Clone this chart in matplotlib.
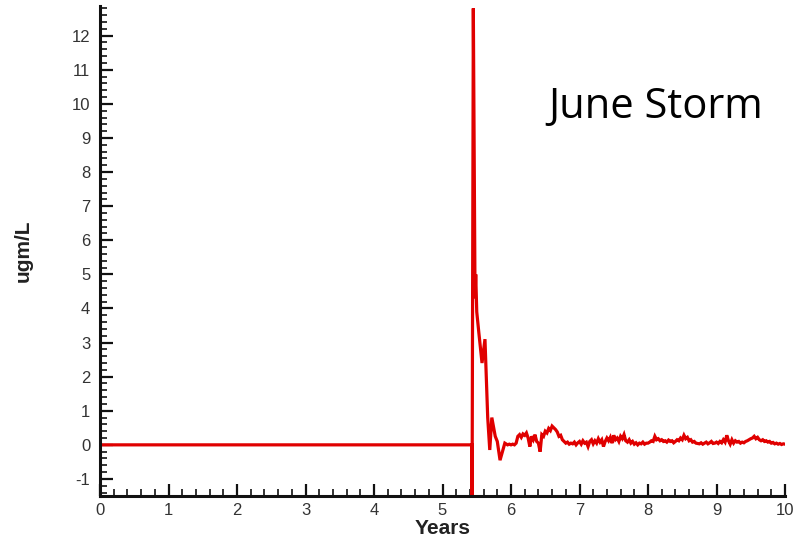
import numpy as np
import matplotlib
matplotlib.use("Agg")
import matplotlib.pyplot as plt
from matplotlib.ticker import MultipleLocator

plt.rcParams["axes.unicode_minus"] = False

# Concentration (ugm/L) through the storm event
storm_years = [0.0, 5.43, 5.432, 5.45, 5.475, 5.485, 5.50, 5.53, 5.577, 5.62,
               5.66, 5.69, 5.72, 5.77, 5.80, 5.84, 5.91, 5.95, 5.975]
storm_conc = [0.0, 0.0, -1.5, 12.8, 4.3, 5.0, 3.9, 3.3, 2.4, 3.1,
              0.8, -0.15, 0.8, 0.25, 0.1, -0.45, 0.05, 0.0, 0.02]

# Post-storm concentration, sampled every 0.025 years from 6.0 to 10.0
tail_start, tail_end = 6.0, 10.0
tail_conc = [
    # 6.0 - 6.975
    0.00, 0.02, 0.00, 0.05, 0.25, 0.30, 0.22, 0.32, 0.28, 0.35,
    0.20, -0.05, 0.25, 0.15, 0.30, 0.10, 0.05, -0.20, 0.30, 0.25,
    0.40, 0.35, 0.48, 0.42, 0.55, 0.50, 0.45, 0.38, 0.25, 0.28,
    0.15, 0.10, 0.05, 0.08, 0.02, 0.05, 0.03, 0.08, 0.00, 0.06,
    # 7.0 - 7.975
    0.10, 0.02, 0.12, 0.05, 0.08, -0.05, 0.10, 0.15, 0.03, 0.12,
    0.05, 0.18, 0.08, 0.15, -0.05, 0.10, 0.20, 0.12, 0.22, 0.05,
    0.28, 0.15, 0.20, 0.10, 0.25, 0.18, 0.30, 0.12, 0.08, 0.15,
    0.05, 0.10, 0.02, 0.06, 0.00, 0.05, 0.03, 0.08, 0.02, 0.05,
    # 8.0 - 8.975
    0.05, 0.08, 0.12, 0.10, 0.25, 0.15, 0.18, 0.12, 0.15, 0.10,
    0.12, 0.08, 0.14, 0.10, 0.12, 0.06, 0.10, 0.15, 0.12, 0.20,
    0.15, 0.28, 0.18, 0.22, 0.12, 0.15, 0.08, 0.10, 0.05, 0.04,
    0.03, 0.06, 0.02, 0.05, 0.08, 0.03, 0.06, 0.10, 0.04, 0.05,
    # 9.0 - 9.975
    0.08, 0.04, 0.10, 0.06, 0.15, 0.08, 0.28, 0.12, 0.02, 0.15,
    0.05, 0.12, 0.08, 0.10, 0.05, 0.08, 0.06, 0.10, 0.12, 0.15,
    0.18, 0.20, 0.25, 0.18, 0.22, 0.15, 0.12, 0.15, 0.10, 0.12,
    0.08, 0.10, 0.05, 0.07, 0.03, 0.05, 0.02, 0.04, 0.01, 0.03,
    # 10.0
    0.02,
]

x_ticks = [0, 1, 2, 3, 4, 5, 6, 7, 8, 9, 10]
y_ticks = [-1, 0, 1, 2, 3, 4, 5, 6, 7, 8, 9, 10, 11, 12]

tail_years = np.linspace(tail_start, tail_end, len(tail_conc))
years = np.concatenate([storm_years, tail_years])
conc = np.concatenate([storm_conc, tail_conc])

W, H = 796, 546
fig = plt.figure(figsize=(W / 100, H / 100), dpi=100)
ax = fig.add_axes([100 / W, 50 / H, 685 / W, 490 / H])

ax.plot(years, conc, color="#e00000", lw=2.3, solid_joinstyle="miter")

ax.set_xlim(0, 10)
ax.set_ylim(-1.5, 12.87)
ax.set_xticks(x_ticks)
ax.set_yticks(y_ticks)
ax.xaxis.set_minor_locator(MultipleLocator(0.2))
ax.yaxis.set_minor_locator(MultipleLocator(0.2))

for s in ("top", "right"):
    ax.spines[s].set_visible(False)
for s in ("left", "bottom"):
    ax.spines[s].set_linewidth(2.2)
    ax.spines[s].set_color("#111111")

ax.tick_params(which="major", direction="in", length=9, width=1.6,
               color="#111111", labelsize=12, labelcolor="#333333")
ax.tick_params(which="minor", direction="in", length=5, width=1.2,
               color="#111111")
ax.tick_params(axis="y", which="major", pad=7)
ax.tick_params(axis="x", which="major", pad=5)
for lab in ax.get_xticklabels() + ax.get_yticklabels():
    lab.set_family("Liberation Sans")

ax.set_xlabel("Years", family="Liberation Sans", fontweight="bold",
              fontsize=15, color="#222222", labelpad=1)
ax.set_ylabel("ugm/L", family="Liberation Sans", fontweight="bold",
              fontsize=15, color="#222222", labelpad=28)

fig.text(548 / W, 1 - 118 / H, "June Storm", family="Open Sans",
         fontsize=30, color="black", ha="left", va="baseline")

fig.savefig("out.png", dpi=100, facecolor="white")
